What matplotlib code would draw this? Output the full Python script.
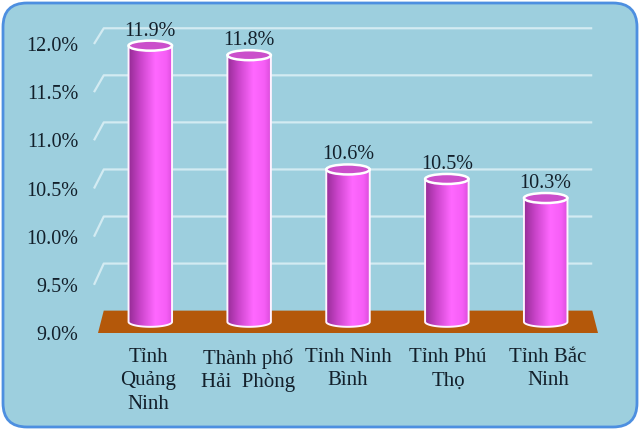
import matplotlib
matplotlib.use("Agg")
import matplotlib.pyplot as plt
import numpy as np
from matplotlib.patches import FancyBboxPatch, Ellipse, PathPatch, Polygon
from matplotlib.path import Path
from matplotlib.colors import LinearSegmentedColormap

# chart data
categories = ["Tỉnh\nQuảng\nNinh", "Thành phố\nHải  Phòng", "Tỉnh Ninh\nBình",
              "Tỉnh Phú\nThọ", "Tỉnh Bắc\nNinh"]
values = [11.9, 11.8, 10.6, 10.5, 10.3]
yticks = [9.0, 9.5, 10.0, 10.5, 11.0, 11.5, 12.0]

plt.rcParams['font.family'] = ['Liberation Serif', 'DejaVu Serif']

BG = '#9DCFDE'
TEXT = '#13202B'
FLOOR = '#B4580A'
GRID = '#D3EBF2'

# perspective: shrink towards a vanishing point with depth z (0 front, 1 back)
SHRINK = 0.023
XV, YV = 2.0, 19.1


def proj(x, y, z):
    s = 1 - SHRINK * z
    return XV + (x - XV) * s, YV + (y - YV) * s


fig = plt.figure(figsize=(6.4, 4.3), dpi=100)

# rounded panel background
bg = fig.add_axes([0, 0, 1, 1])
bg.set_xlim(0, 640)
bg.set_ylim(0, 430)
bg.axis('off')
bg.add_patch(FancyBboxPatch((3, 3), 634, 424,
                            boxstyle="round,pad=0,rounding_size=24",
                            fc=BG, ec='#4D8FE0', lw=2))

ax = fig.add_axes([98 / 640, 97 / 430, 500 / 640, 289 / 430])
ax.patch.set_alpha(0)
for sp in ax.spines.values():
    sp.set_visible(False)

# back wall gridlines with short side-wall diagonal
for yv in yticks[1:]:
    fx, fy = proj(-0.54, yv, 0)
    bx, by = proj(-0.5, yv, 1)
    ex, ey = proj(4.5, yv, 1)
    ax.plot([fx, bx, ex], [fy, by, ey], color=GRID, lw=1.6,
            solid_capstyle='butt', clip_on=False, zorder=1)

# floor at the base value
base = yticks[0]
corners = [proj(-0.5, base, 0), proj(4.5, base, 0),
           proj(4.5, base, 1), proj(-0.5, base, 1)]
ax.add_patch(Polygon(corners, closed=True, fc=FLOOR, ec='none',
                     clip_on=False, zorder=2))

# cylinders
cmap = LinearSegmentedColormap.from_list(
    'cyl', [(0, '#962C96'), (0.25, '#C843C8'), (0.6, '#FF68FF'),
            (0.85, '#F65EF6'), (1.0, '#DA4CDA')])
grad = np.linspace(0, 1, 256).reshape(1, -1)
bar_w = 0.435
eb = 0.052  # half height of the end ellipses

for i, v in enumerate(values):
    xc, ytop = proj(i, v, 0.5)
    _, ybot = proj(i, base, 0.5)
    x0, x1 = xc - bar_w / 2, xc + bar_w / 2
    t = np.linspace(np.pi, 2 * np.pi, 60)
    arc_x = xc + bar_w / 2 * np.cos(t)
    arc_y = ybot + eb * np.sin(t)
    verts = [(x0, ytop)] + list(zip(arc_x, arc_y)) + [(x1, ytop), (x0, ytop)]
    body = Path(verts, closed=True)
    clip = PathPatch(body, transform=ax.transData)
    im = ax.imshow(grad, extent=[x0, x1, ybot - eb, ytop], cmap=cmap,
                   aspect='auto', zorder=3, interpolation='bilinear')
    im.set_clip_path(clip)
    ax.add_patch(PathPatch(body, fc='none', ec='#FFF2FF', lw=1.4,
                           clip_on=False, zorder=4))
    ax.add_patch(Ellipse((xc, ytop), bar_w, 2 * eb, fc='#CB4FCB',
                         ec='white', lw=1.8, clip_on=False, zorder=5))
    ax.annotate(f"{v:.1f}%", (xc, ytop + eb), xytext=(0, 0),
                textcoords='offset points', ha='center', va='bottom',
                fontsize=14.5, color=TEXT, zorder=6, annotation_clip=False)

ax.set_xlim(-0.5, 4.5)
ax.set_ylim(9, 12)
ax.set_aspect('auto')
ax.set_yticks(yticks)
ax.set_yticklabels([f"{t:.1f}%" for t in yticks], fontsize=14.5, color=TEXT)
ax.set_xticks(range(len(categories)))
ax.set_xticklabels(categories, fontsize=15, color=TEXT, linespacing=1.3)
ax.tick_params(axis='y', length=0, pad=14)
ax.tick_params(axis='x', length=0, pad=11)

fig.savefig("out.png", dpi=100)
